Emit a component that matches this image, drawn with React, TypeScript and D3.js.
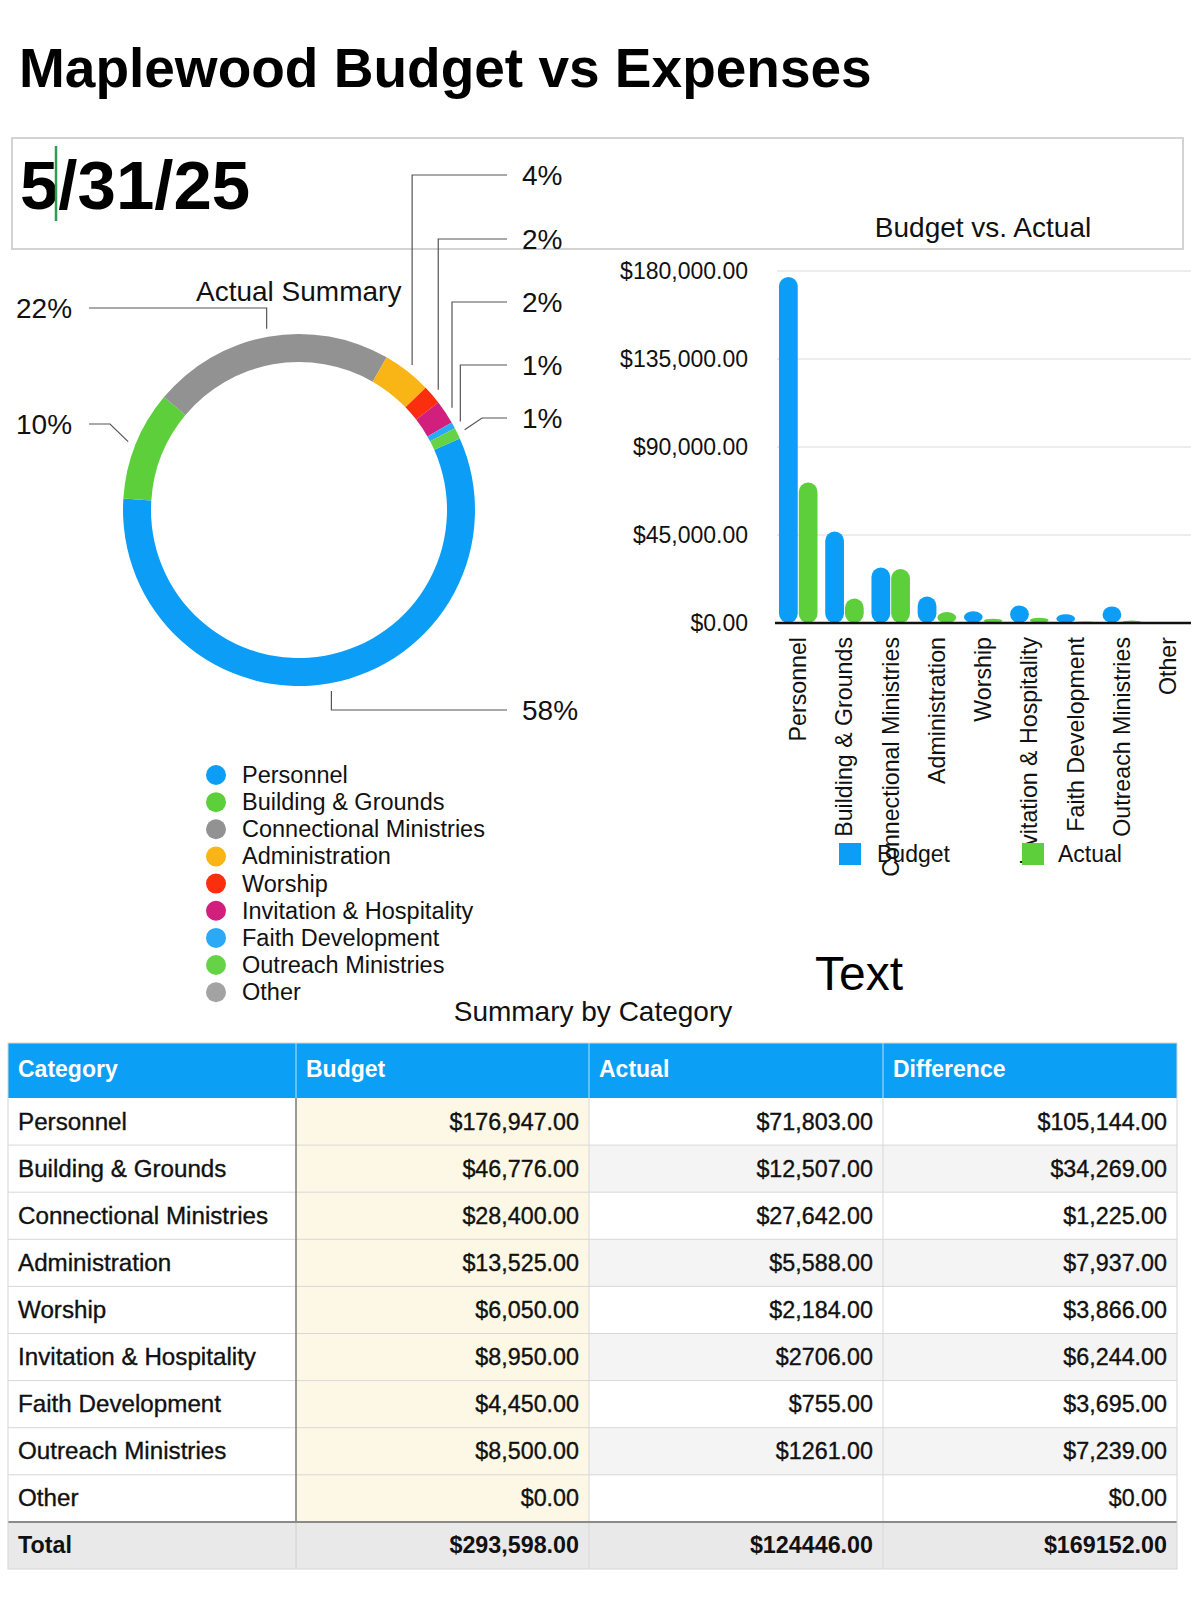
import React from "react";
import * as d3 from "d3";

const categories = [
  "Personnel",
  "Building & Grounds",
  "Connectional Ministries",
  "Administration",
  "Worship",
  "Invitation & Hospitality",
  "Faith Development",
  "Outreach Ministries",
  "Other",
];
const budgetValues = [176947, 46776, 28400, 13525, 6050, 8950, 4450, 8500, 0];
const actualValues = [71803, 12507, 27642, 5588, 2184, 2706, 755, 1261, 0];
const budgetText = ["$176,947.00", "$46,776.00", "$28,400.00", "$13,525.00", "$6,050.00", "$8,950.00", "$4,450.00", "$8,500.00", "$0.00"];
const actualText = ["$71,803.00", "$12,507.00", "$27,642.00", "$5,588.00", "$2,184.00", "$2706.00", "$755.00", "$1261.00", ""];
const differenceText = ["$105,144.00", "$34,269.00", "$1,225.00", "$7,937.00", "$3,866.00", "$6,244.00", "$3,695.00", "$7,239.00", "$0.00"];
const totalText = ["Total", "$293,598.00", "$124446.00", "$169152.00"];
const tableHeaders = ["Category", "Budget", "Actual", "Difference"];
const yTicks = [0, 45000, 90000, 135000, 180000];
const seriesKeys = ["Budget", "Actual"];

const sliceColors = ["#0c9ef7", "#5dcf3b", "#929292", "#f9b415", "#fb2e0e", "#d21f7d", "#2ca9f6", "#66d346", "#a3a3a3"];
const seriesColors = ["#0c9ef7", "#5dcf3b"];

const FONT = "'Liberation Sans', Arial, Helvetica, sans-serif";

// label layout for donut (by category index)
const pieLabelLayout: Record<number, { side: "left" | "right"; y: number; style: "elbow" | "diag"; elbowX?: number }> = {
  0: { side: "right", y: 710, style: "elbow" },
  1: { side: "left", y: 424, style: "diag", elbowX: 110 },
  2: { side: "left", y: 308, style: "elbow" },
  3: { side: "right", y: 175, style: "elbow" },
  4: { side: "right", y: 239, style: "elbow" },
  5: { side: "right", y: 302, style: "elbow" },
  6: { side: "right", y: 365, style: "elbow" },
  7: { side: "right", y: 418, style: "diag", elbowX: 482 },
};

export default function App() {
  // Donut
  const cx = 299, cy = 510, rOut = 176, rIn = 148;
  const startA = (66 * Math.PI) / 180;
  const pie = d3.pie<number>().sort(null).value((d) => d).startAngle(startA).endAngle(startA + 2 * Math.PI);
  const arcs = pie(actualValues);
  const arcGen = d3.arc<d3.PieArcDatum<number>>().innerRadius(rIn).outerRadius(rOut);
  const totalActual = d3.sum(actualValues);

  const leftLineX = 89, rightLineX = 507, leftTextX = 16, rightTextX = 522;

  // Bar chart
  const y = d3.scaleLinear().domain([0, 180000]).range([623, 271]);
  const x0 = d3.scaleBand<string>().domain(categories).range([775, 1191]).padding(0);
  const x1 = d3.scaleBand<string>().domain(seriesKeys).range([4, 42.5]).paddingInner(0.05);
  const fmt = d3.format("$,.2f");

  // Table
  const colX = [8, 296, 589, 883, 1177];
  const headTop = 1043, headH = 55, rowH = 47.1;
  const rowTop = (i: number) => headTop + headH + i * rowH;
  const totalTop = rowTop(categories.length);

  return (
    <svg width={1200} height={1598} viewBox="0 0 1200 1598" style={{ position: "absolute", left: 0, top: 0, background: "#fff" }} fontFamily={FONT}>
      <rect x={0} y={0} width={1200} height={1598} fill="#fff" />
      <text x={19} y={87} fontSize={55} fontWeight="bold" fill="#000">Maplewood Budget vs Expenses</text>

      <rect x={12} y={138} width={1171} height={111} fill="none" stroke="#d3d3d3" strokeWidth={2} />
      <text x={20} y={209} fontSize={69} fontWeight="bold" fill="#000">5/31/25</text>
      <line x1={56} x2={56} y1={146} y2={221} stroke="#2f9e52" strokeWidth={2.5} />
      <text x={983} y={237} fontSize={28} textAnchor="middle" fill="#111">Budget vs. Actual</text>

      {/* Donut */}
      <text x={196} y={301} fontSize={28} fill="#111">Actual Summary</text>
      <g transform={`translate(${cx},${cy})`}>
        {arcs.map((a, i) => (a.value > 0 ? <path key={i} d={arcGen(a) || ""} fill={sliceColors[i]} /> : null))}
      </g>
      {arcs.map((a, i) => {
        const lay = pieLabelLayout[i];
        if (!lay || a.value <= 0) return null;
        const mid = (a.startAngle + a.endAngle) / 2;
        const r = rOut + 8;
        const ax = cx + r * Math.sin(mid);
        const ay = cy - r * Math.cos(mid);
        const endX = lay.side === "right" ? rightLineX : leftLineX;
        let d = "";
        if (lay.style === "elbow") d = `M${ax},${ay}V${lay.y}H${endX}`;
        else d = `M${ax},${ay}L${lay.elbowX},${lay.y}H${endX}`;
        const pct = Math.round((a.value / totalActual) * 100) + "%";
        return (
          <g key={"l" + i}>
            <path d={d} fill="none" stroke="#555" strokeWidth={1.2} />
            <text x={lay.side === "right" ? rightTextX : leftTextX} y={lay.y + 10} fontSize={28} fill="#111">{pct}</text>
          </g>
        );
      })}

      {/* Pie legend */}
      {categories.map((c, i) => (
        <g key={"pl" + i}>
          <circle cx={216} cy={775 + i * 27.15} r={10} fill={sliceColors[i]} />
          <text x={242} y={775 + i * 27.15 + 8} fontSize={23.5} fill="#111">{c}</text>
        </g>
      ))}

      {/* Bar chart */}
      {yTicks.map((t) => (
        <g key={"t" + t}>
          {t > 0 && <line x1={777} x2={1191} y1={y(t)} y2={y(t)} stroke="#d9d9d9" strokeWidth={1.2} />}
          <text x={748} y={y(t)} dy="0.35em" textAnchor="end" fontSize={23} fill="#111">{fmt(t)}</text>
        </g>
      ))}
      {categories.map((c, i) =>
        seriesKeys.map((k, j) => {
          const v = j === 0 ? budgetValues[i] : actualValues[i];
          if (v <= 0) return null;
          const w = x1.bandwidth();
          const bx = (x0(c) || 0) + (x1(k) || 0);
          const by = y(v);
          const h = y(0) - by;
          return <rect key={c + k} x={bx} y={by} width={w} height={h} rx={w / 2} ry={Math.min(w / 2, h / 2)} fill={seriesColors[j]} />;
        })
      )}
      <line x1={775} x2={1191} y1={y(0)} y2={y(0)} stroke="#111" strokeWidth={2.5} />
      {categories.map((c) => (
        <text key={"xl" + c} transform={`translate(${(x0(c) || 0) + x0.bandwidth() / 2},637) rotate(-90)`} textAnchor="end" dy="0.35em" fontSize={23.2} fill="#111">{c}</text>
      ))}
      {/* Bar legend */}
      {seriesKeys.map((k, j) => (
        <g key={"bl" + k}>
          <rect x={[839, 1022][j]} y={843} width={22} height={22} fill={seriesColors[j]} />
          <text x={[877, 1058][j]} y={862} fontSize={23} fill="#111">{k}</text>
        </g>
      ))}

      <text x={815} y={990} fontSize={48} fill="#000">Text</text>
      <text x={593} y={1021} fontSize={28} textAnchor="middle" fill="#111">Summary by Category</text>

      {/* Table */}
      <rect x={colX[0]} y={headTop} width={colX[4] - colX[0]} height={headH} fill="#0ba0f6" />
      {tableHeaders.map((h, j) => (
        <g key={"h" + h}>
          {j > 0 && <line x1={colX[j]} x2={colX[j]} y1={headTop} y2={headTop + headH} stroke="#b9e1fb" strokeWidth={1} />}
          <text x={colX[j] + 10} y={headTop + headH / 2 + 6} fontSize={23} fontWeight="bold" fill="#fff">{h}</text>
        </g>
      ))}
      {categories.map((c, i) => {
        const top = rowTop(i);
        const alt = i % 2 === 1;
        const cells = [c, budgetText[i], actualText[i], differenceText[i]];
        return (
          <g key={"r" + i}>
            <rect x={colX[0]} y={top} width={colX[1] - colX[0]} height={rowH} fill="#fff" />
            <rect x={colX[1]} y={top} width={colX[2] - colX[1]} height={rowH} fill="#fdf8e5" />
            <rect x={colX[2]} y={top} width={colX[4] - colX[2]} height={rowH} fill={alt ? "#f4f4f4" : "#fff"} />
            {cells.map((t, j) => (
              <text key={j} x={j === 0 ? colX[0] + 10 : colX[j + 1] - 10} y={top + rowH / 2 + 8} textAnchor={j === 0 ? "start" : "end"} fontSize={j === 0 ? 24.2 : 23.3} fill="#111" stroke="#111" strokeWidth={0.35}>{t}</text>
            ))}
          </g>
        );
      })}
      <rect x={colX[0]} y={totalTop} width={colX[4] - colX[0]} height={rowH} fill="#e9e9e9" />
      {totalText.map((t, j) => (
        <text key={"tt" + j} x={j === 0 ? colX[0] + 10 : colX[j + 1] - 10} y={totalTop + rowH / 2 + 8} textAnchor={j === 0 ? "start" : "end"} fontSize={23.3} fontWeight="bold" fill="#111">{t}</text>
      ))}
      {/* grid lines */}
      {d3.range(1, categories.length).map((i) => (
        <line key={"hl" + i} x1={colX[0]} x2={colX[4]} y1={rowTop(i)} y2={rowTop(i)} stroke="#d8d8d8" strokeWidth={1} />
      ))}
      {[2, 3].map((j) => (
        <line key={"vl" + j} x1={colX[j]} x2={colX[j]} y1={headTop + headH} y2={totalTop + rowH} stroke="#d8d8d8" strokeWidth={1} />
      ))}
      <line x1={colX[1]} x2={colX[1]} y1={headTop + headH} y2={totalTop} stroke="#7a7a7a" strokeWidth={1.5} />
      <line x1={colX[1]} x2={colX[1]} y1={totalTop} y2={totalTop + rowH} stroke="#d0d0d0" strokeWidth={1} />
      <line x1={colX[0]} x2={colX[4]} y1={totalTop} y2={totalTop} stroke="#8a8a8a" strokeWidth={2} />
      <rect x={colX[0]} y={headTop} width={colX[4] - colX[0]} height={totalTop + rowH - headTop} fill="none" stroke="#d6d6d6" strokeWidth={1} />
    </svg>
  );
}
